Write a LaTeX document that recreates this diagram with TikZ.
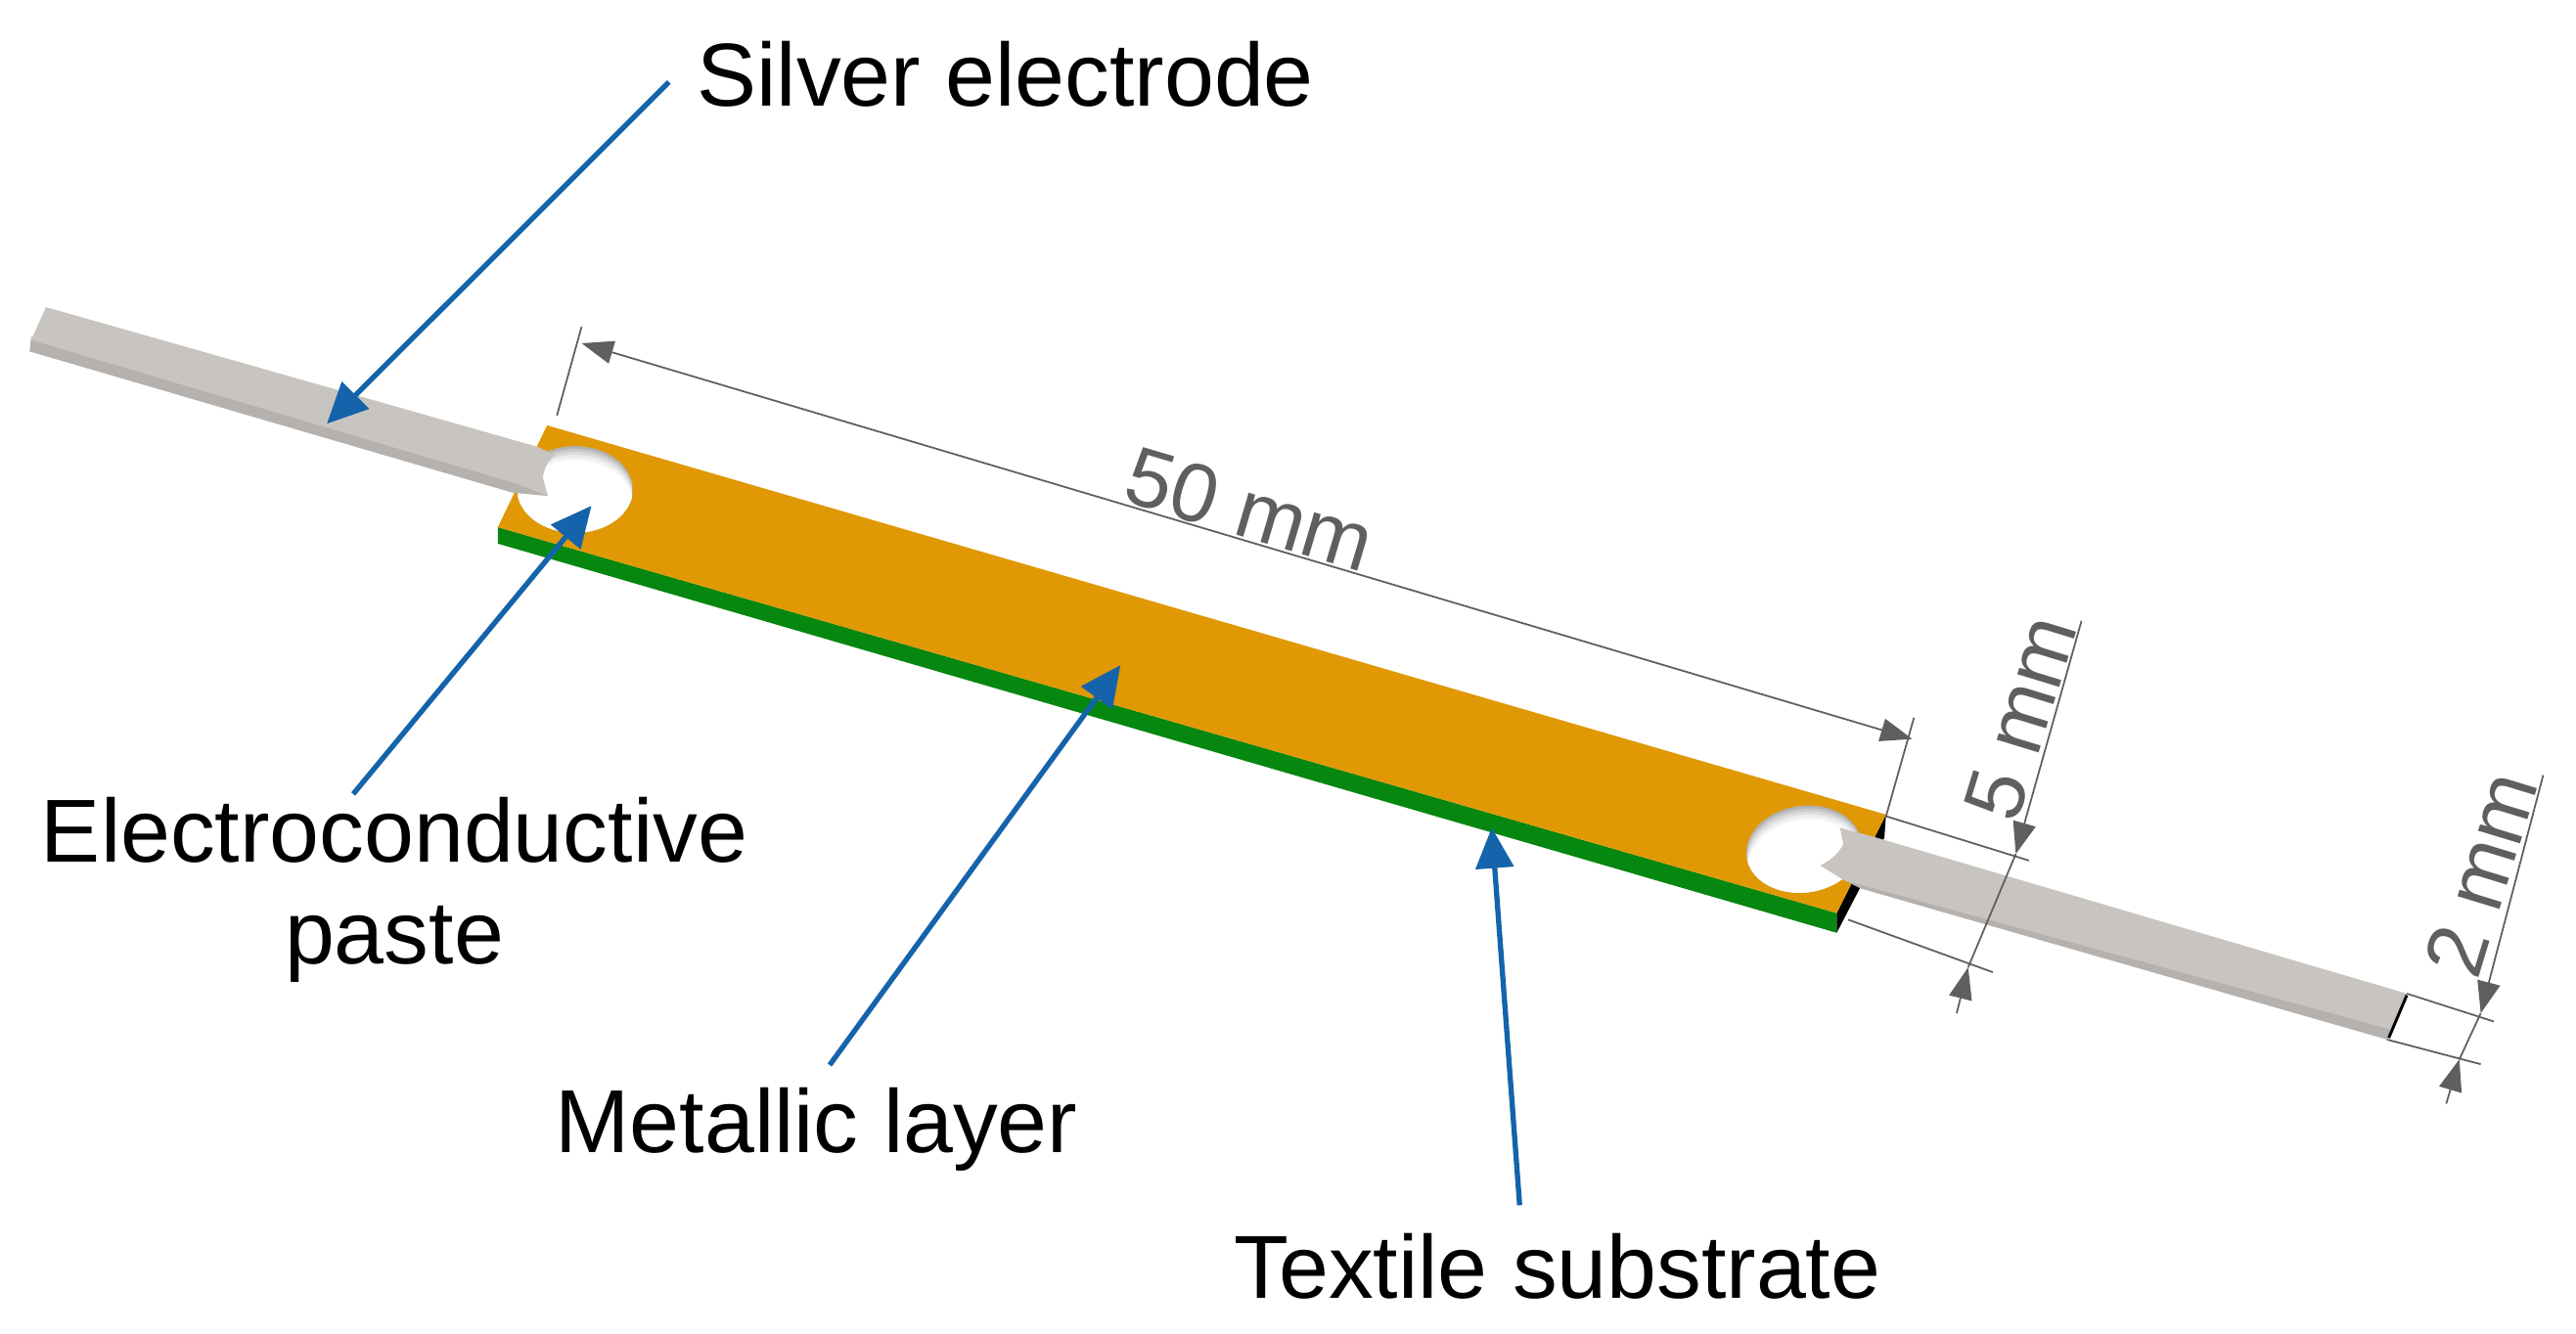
\documentclass[tikz,border=0pt]{standalone}
\usepackage{fontspec}
\setmainfont{Liberation Sans}
\usetikzlibrary{arrows.meta,shapes.geometric}
\definecolor{orangelayer}{HTML}{E09804}
\definecolor{greenlayer}{HTML}{06870F}
\definecolor{silvertop}{HTML}{C8C4C0}
\definecolor{silverside}{HTML}{B5B1AE}
\definecolor{bluearrow}{HTML}{1463AB}
\definecolor{dimgray}{HTML}{5F5F5F}
\tikzset{
  label/.style={font=\fontsize{31}{35.3}\selectfont, inner sep=1pt, align=center},
  dimlabel/.style={font=\fontsize{28.7}{33}\selectfont, inner sep=1pt, text=dimgray},
  pointer/.style={draw=bluearrow, line width=1.8pt, -{Triangle[length=14pt,width=13pt]}},
  dimline/.style={draw=dimgray, line width=0.6pt},
  dimarrow/.style={dimline, -{Triangle[length=11pt,width=8pt]}},
  hole/.style={ellipse, inner sep=0pt, minimum width=40pt, minimum height=30pt, fill=gray!60,
    path picture={
      \foreach \g/\d in {42/1,28/2,16/3,7/4,0/5}
        \fill[gray!\g] ([yshift=-\d pt]path picture bounding box.center) ellipse [x radius=20pt, y radius=15pt];
    }},
}
\begin{document}
\begin{tikzpicture}[x=0.2mm,y=-0.2mm]
  \useasboundingbox (0,0) rectangle (1568,812);
  % corners of the layers
  \coordinate (otl) at (333,259);
  \coordinate (obl) at (303,321);
  \coordinate (obr) at (1118,556);
  \coordinate (otr) at (1148,496);
  \coordinate (gbl) at (303,331);
  \coordinate (gbr) at (1118,568);
  % substrate and metal
  \fill[greenlayer] (obl) -- (obr) -- (gbr) -- (gbl) -- cycle;
  \fill[black] (otr) -- (obr) -- (gbr) -- (1132,541) -- (1147,510) -- cycle;
  \fill[orangelayer] (otl) -- (otr) -- (obr) -- (obl) -- cycle;
  % holes
  \node[hole] (holeleft) at (350,298) {};
  \node[hole, rotate=8] (holeright) at (1098,517) {};
  % left strip
  \fill[silverside] (18,214) -- (19,205) -- (316,290) -- (333.5,302) -- (312,300) -- cycle;
  \fill[silvertop] (28,187) -- (19,207) -- (316,295) -- (333.5,302) -- (330.5,291) .. controls (331,285) and (334,280) .. (338,277) -- (327,272) -- cycle;
  % right strip
  \fill[silverside] (1453,633) -- (1456,625) -- (1122,528) -- (1122.5,536) -- (1132.5,541) -- cycle;
  \fill[silvertop] (1465,605) -- (1456,627) -- (1122.5,536) -- (1108,527) .. controls (1114,524) and (1119,520) .. (1122,514) -- (1120,504) -- (1142,510) -- cycle;
  \draw[black, line width=1pt] (1465,606) -- (1454,632);
  % labels
  \node[label] (silverlabel) at (612,45) {Silver electrode};
  \node[label] (pastelabel) at (240,542) {Electroconductive\\paste};
  \node[label] (metallabel) at (497,688) {Metallic layer};
  \node[label] (textilelabel) at (948,771) {Textile substrate};
  \coordinate (silvertip) at (199,258);
  \coordinate (pastetip) at (360,308);
  \coordinate (metaltip) at (682,405);
  \coordinate (textiletip) at (908,504);
  \draw[pointer] (silverlabel.west) ++(-15,5) -- (silvertip);
  \draw[pointer] (pastelabel.north) ++(-25,0) -- (pastetip);
  \draw[pointer] (metallabel.north) ++(8,-12) -- (metaltip);
  \draw[pointer] (textilelabel.north) ++(-23,-15) -- (textiletip);
  % 50 mm
  \coordinate (lenleft) at (354,209);
  \coordinate (lenright) at (1164,450);
  \draw[dimline] (339,253) -- (354,199);
  \draw[dimline] (1148,497) -- (1165,437);
  \draw[dimline, {Triangle[length=11pt,width=8pt]}-{Triangle[length=11pt,width=8pt]}] (lenleft) -- (lenright);
  \node[dimlabel, rotate=-16.5] (lenlabel) at (761,310) {50 mm};
  % 5 mm
  \coordinate (widtha) at (1227,520);
  \coordinate (widthb) at (1198,589);
  \draw[dimline] (1148,497) -- (1235,524);
  \draw[dimline] (1125,560) -- (1213,592);
  \draw[dimarrow] (1267,378) -- (widtha);
  \draw[dimline] (widtha) -- (widthb);
  \draw[dimarrow] (1191,617) -- (widthb);
  \node[dimlabel, rotate=73] (widthlabel) at (1230,437) {5 mm};
  % 2 mm
  \coordinate (stripa) at (1510,617);
  \coordinate (stripb) at (1497,645);
  \draw[dimline] (1465,605) -- (1518,622);
  \draw[dimline] (1453,633) -- (1510,648);
  \draw[dimarrow] (1548,472) -- (stripa);
  \draw[dimline] (stripa) -- (stripb);
  \draw[dimarrow] (1489,672) -- (stripb);
  \node[dimlabel, rotate=73] (striplabel) at (1510,532) {2 mm};
\end{tikzpicture}
\end{document}
